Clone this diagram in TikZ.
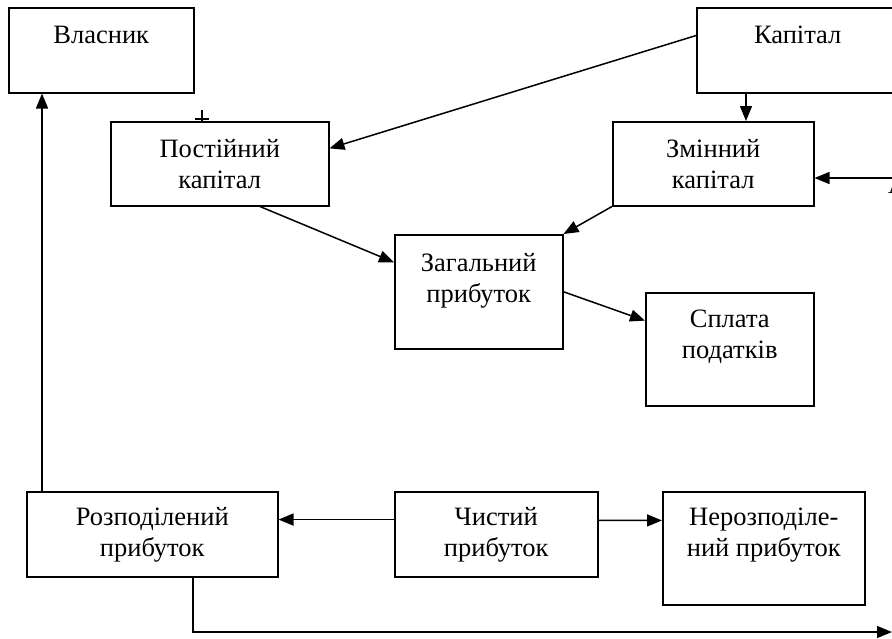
\documentclass[tikz,border=0pt]{standalone}
\usepackage{fontspec}
\setmainfont{Liberation Serif}
\usetikzlibrary{arrows.meta,calc}
\tikzset{
  box/.style={draw, line width=1.5pt, anchor=north west, inner sep=0pt},
  lbl/.style={anchor=base, inner sep=0pt, font=\fontsize{26.5}{31}\selectfont},
  arr/.style={line width=1.5pt, -{Triangle[length=15pt,width=12pt]}},
  ln/.style={line width=1.5pt}
}
\newcommand{\twol}[2]{\parbox[t]{260pt}{\centering #1\\#2}}
\begin{document}
\begin{tikzpicture}[x=1pt,y=-1pt]
\useasboundingbox (0,0) rectangle (892,638);
% boxes
\node[box, minimum width=185pt, minimum height=85pt] (vl) at (8,7) {};
\node[box, minimum width=202pt, minimum height=85pt] (kap) at (696,7) {};
\node[box, minimum width=218pt, minimum height=84pt] (post) at (110,121) {};
\node[box, minimum width=201pt, minimum height=84pt] (zm) at (612,121) {};
\node[box, minimum width=168pt, minimum height=114pt] (zag) at (394,234) {};
\node[box, minimum width=168pt, minimum height=113pt] (spl) at (645,292) {};
\node[box, minimum width=251pt, minimum height=85pt] (roz) at (26,491) {};
\node[box, minimum width=203pt, minimum height=85pt] (chy) at (394,491) {};
\node[box, minimum width=202pt, minimum height=113pt] (ner) at (662,491) {};
% labels
\node[lbl] (vlt) at ([yshift=-36pt]vl.north) {Власник};
\node[lbl] (kapt) at ([yshift=-36pt]kap.north) {Капітал};
\node[lbl] (postt) at ([yshift=-36pt]post.north) {\twol{Постійний}{капітал}};
\node[lbl] (zmt) at ([yshift=-36pt]zm.north) {\twol{Змінний}{капітал}};
\node[lbl] (zagt) at ([yshift=-37pt]zag.north) {\twol{Загальний}{прибуток}};
\node[lbl] (splt) at ([yshift=-35pt]spl.north) {\twol{Сплата}{податків}};
\node[lbl] (rozt) at ([yshift=-34pt]roz.north) {\twol{Розподілений}{прибуток}};
\node[lbl] (chyt) at ([yshift=-34pt]chy.north) {\twol{Чистий}{прибуток}};
\node[lbl] (nert) at ([yshift=-34pt]ner.north) {\twol{Нерозподіле-}{ний прибуток}};
\node[lbl, anchor=base west] (afrag) at (888,193) {А};
% free ends
\coordinate (rA) at (900,178);
\coordinate (rB) at (892,632);
% connectors
\draw[arr] ($(kap.north west)!0.33!(kap.south west)$) -- ($(post.north east)!0.32!(post.south east)$);
\draw[arr] ([xshift=50pt]kap.south west) -- ([xshift=50pt]kap.south west |- zm.north);
\draw[arr] (rA) -- (rA -| zm.east);
\draw[arr] ([xshift=150pt]post.south west) -- ($(zag.north west)!0.245!(zag.south west)$);
\draw[arr] (zm.south west) -- (zag.north east);
\draw[arr] (zag.east) -- ($(spl.north west)!0.25!(spl.south west)$);
\draw[arr] ($(chy.north west)!0.33!(chy.south west)$) -- ($(roz.north east)!0.33!(roz.south east)$);
\draw[arr] ($(chy.north east)!0.34!(chy.south east)$) -- ($(ner.north west)!0.257!(ner.south west)$);
\draw[arr] ([xshift=16pt]roz.north west) -- ([xshift=16pt]roz.north west |- vl.south);
\draw[arr] ([xshift=167pt]roz.south west) |- (rB);
% small tick on top of Постійний капітал
\draw[ln] ([xshift=92pt]post.north west) -- ++(0pt,11pt);
\draw[ln] ([xshift=85pt,yshift=2pt]post.north west) -- ++(14pt,0pt);
\end{tikzpicture}
\end{document}
